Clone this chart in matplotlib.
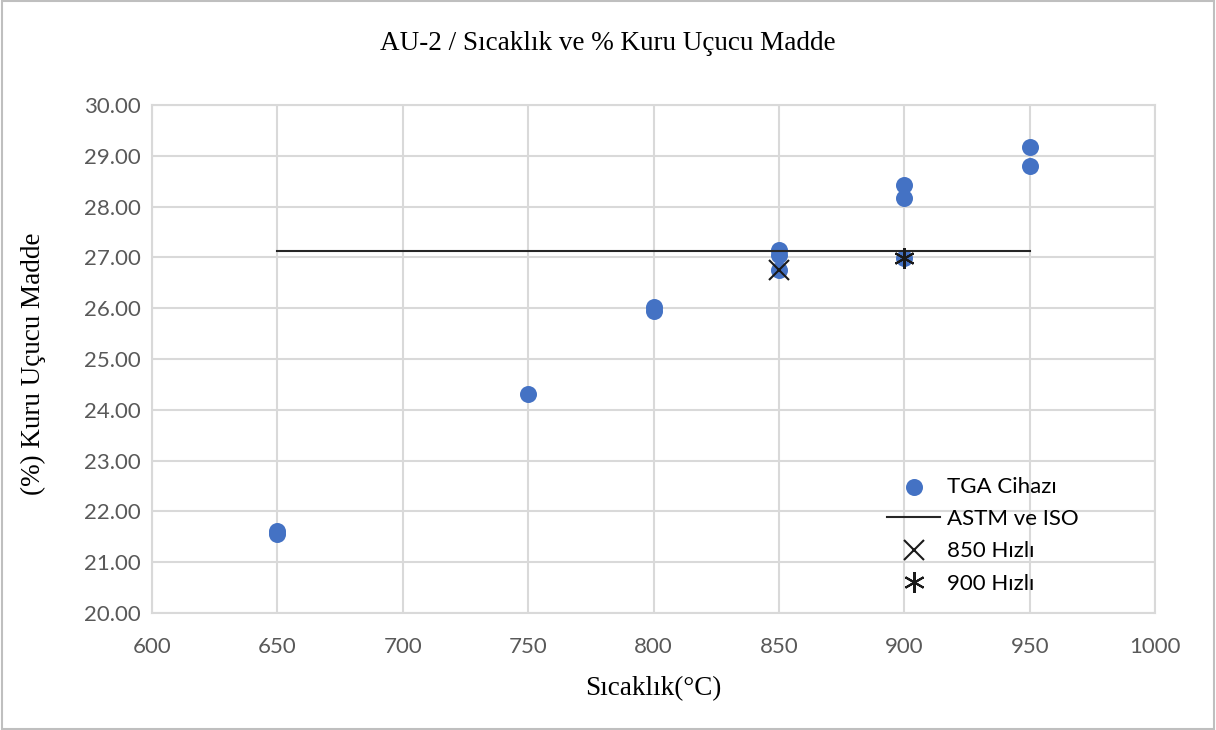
import matplotlib.pyplot as plt
from matplotlib.patches import Rectangle

# TGA Cihazı measurements
tga_x = [650, 650, 750, 800, 800, 850, 850, 850, 900, 900, 900, 950, 950]
tga_y = [21.56, 21.62, 24.31, 26.02, 25.94, 27.15, 27.05, 26.75, 28.43, 28.17, 26.99, 29.17, 28.80]

# ASTM ve ISO reference level
astm_x = [650, 950]
astm_y = [27.13, 27.13]

hizli850_x, hizli850_y = [850], [26.75]
hizli900_x, hizli900_y = [900], [26.99]

xticks = [600, 650, 700, 750, 800, 850, 900, 950, 1000]
yticks = [20, 21, 22, 23, 24, 25, 26, 27, 28, 29, 30]

serif = ['Liberation Serif', 'DejaVu Serif']
sans = ['Lato', 'DejaVu Sans']

fig = plt.figure(figsize=(12.16, 7.30), dpi=100)
ax = fig.add_axes([0.125, 0.1603, 0.825, 0.6959])

ax.scatter(tga_x, tga_y, s=150, color='#4472C4', label='TGA Cihazı', zorder=3, linewidths=0)
ax.plot(astm_x, astm_y, color='#262626', lw=1.5, label='ASTM ve ISO', zorder=4)
ax.plot(hizli850_x, hizli850_y, ls='none', marker='x', ms=14, mew=1.5, color='#1a1a1a', label='850 Hızlı', zorder=5)
ax.plot(hizli900_x, hizli900_y, ls='none', marker=(6, 2, 0), ms=15, mew=1.5, color='#1a1a1a', label='900 Hızlı', zorder=5)

ax.set_xlim(600, 1000)
ax.set_ylim(20, 30)
ax.set_xticks(xticks)
ax.set_yticks(yticks)
ax.set_yticklabels([f'{v:.2f}' for v in yticks])
for lab in ax.get_xticklabels() + ax.get_yticklabels():
    lab.set_family(sans); lab.set_fontsize(16); lab.set_color('#595959')
ax.tick_params(length=0)
ax.tick_params(axis='y', pad=8)
ax.tick_params(axis='x', pad=17)
ax.grid(True, color='#d9d9d9', lw=1.5)
ax.set_axisbelow(True)
for s in ax.spines.values():
    s.set_color('#d9d9d9'); s.set_linewidth(1.5)

fig.text(0.5, 1 - 43 / 730, 'AU-2 / Sıcaklık ve % Kuru Uçucu Madde', family=serif, fontsize=19.5,
         ha='center', va='center')
ax.set_xlabel('Sıcaklık(°C)', family=serif, fontsize=19.5)
ax.set_ylabel('(%) Kuru Uçucu Madde', family=serif, fontsize=19.5)
ax.xaxis.set_label_coords(0.5, -0.124)
ax.yaxis.set_label_coords(-0.106, 0.49)

leg = ax.legend(loc='upper left', bbox_to_anchor=(887 / 1216, 1 - 477 / 730),
                bbox_transform=fig.transFigure, frameon=False, borderpad=0, borderaxespad=0,
                prop={'family': sans, 'size': 16}, handlelength=2.4, labelspacing=0.55,
                handletextpad=0.3)

fig.patches.append(Rectangle((0.002, 0.002), 0.996, 0.996, transform=fig.transFigure,
                             fill=False, edgecolor='#bfbfbf', lw=1.5))
fig.savefig('out.png', dpi=100)
